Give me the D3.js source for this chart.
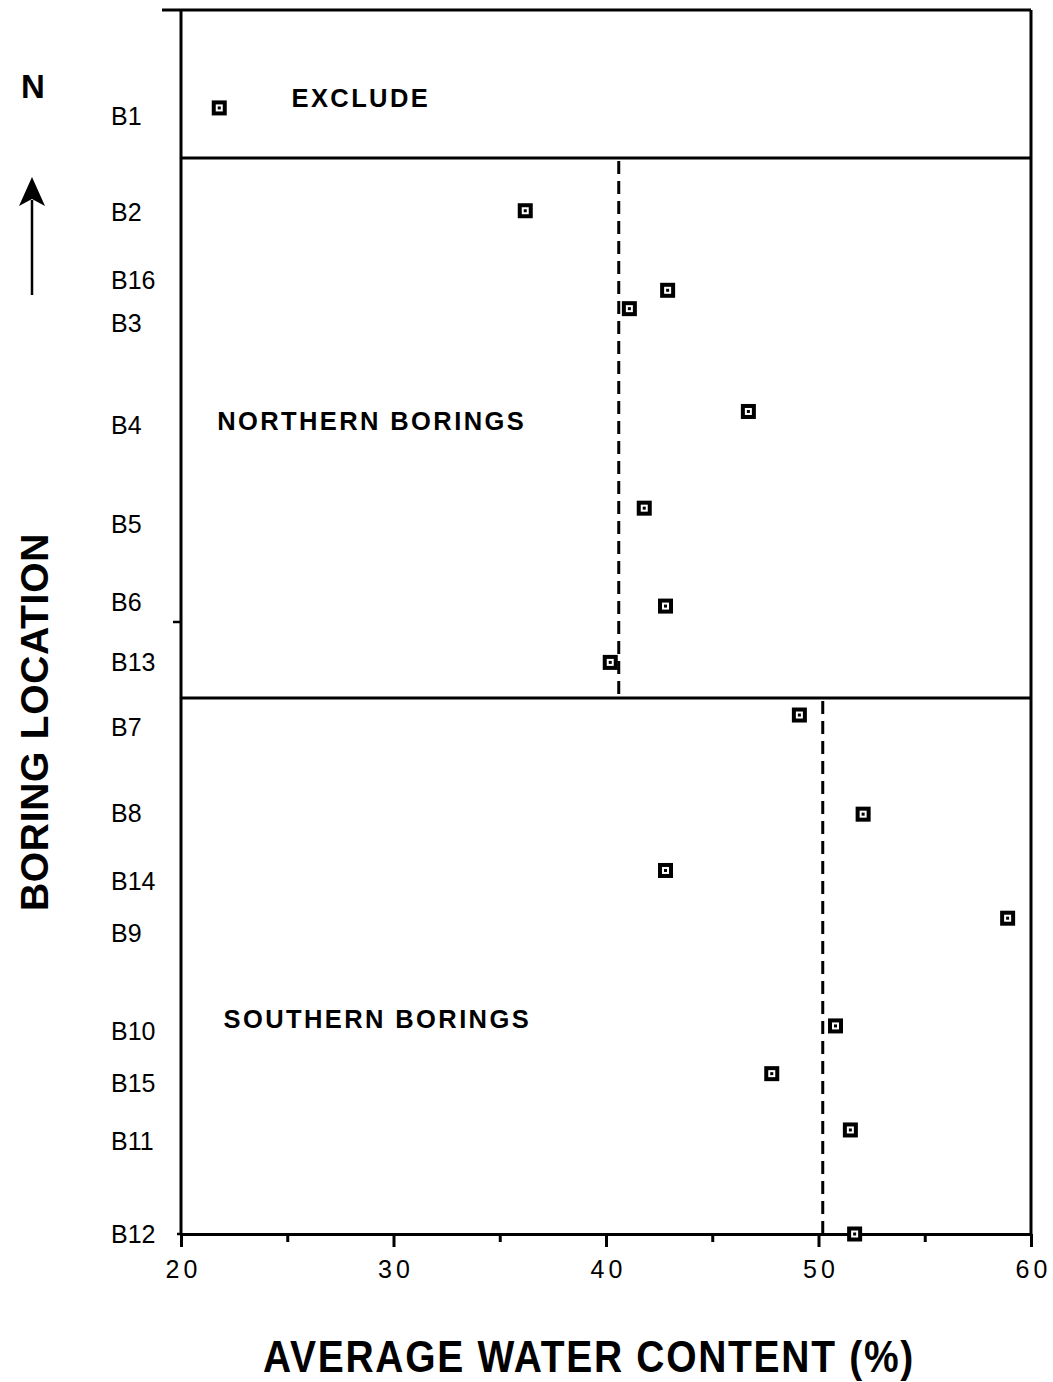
<!DOCTYPE html>
<html><head><meta charset="utf-8">
<script src="https://cdn.jsdelivr.net/npm/d3@7"></script>
<style>body{margin:0;background:#fff}</style>
</head><body><svg id="c" width="1053" height="1382"></svg>
<script>
// ---- data ----
const borings = ["B1","B2","B16","B3","B4","B5","B6","B13","B7","B8","B14","B9","B10","B15","B11","B12"];
const waterContent = [21.8,36.2,42.9,41.1,46.7,41.8,42.8,40.2,49.1,52.1,42.8,58.9,50.8,47.8,51.5,51.7];
// relative north-south location (0 = southernmost, 100 = top of frame)
const pointLocation = [92.0,83.6,77.1,75.6,67.2,59.3,51.3,46.7,42.4,34.3,29.7,25.8,17.0,13.1,8.5,0];
const labelLocation = [91.3,83.5,77.9,74.4,66.1,58.0,51.6,46.7,41.4,34.4,28.8,24.6,16.6,12.3,7.6,0];
const xTicks = [20,30,40,50,60];
const xMinorTicks = [25,35,45,55];
const yTicks = [50];
const groupBreaks = [87.9,43.8];
const groupMeanValues = [40.6,50.2];
const groupMeanFrom = [87.9,43.8];
const groupMeanTo = [43.8,0];
const groupLabelText = ["EXCLUDE","NORTHERN BORINGS","SOUTHERN BORINGS"];
const groupLabelX = [25.2,21.7,22.0];
const groupLabelY = [92.8,66.4,17.6];
const xTitle = "AVERAGE WATER CONTENT (%)";
const yTitle = "BORING LOCATION";

// ---- drawing ----
const FONT = "'Liberation Sans', Arial, Helvetica, sans-serif";
const svg = d3.select("#c").style("font-family", FONT);
const x = d3.scaleLinear().domain([20,60]).range([181,1031]);
const y = d3.scaleLinear().domain([0,100]).range([1234,10]);

const frame = svg.append("g").attr("stroke","#000").attr("stroke-width",3).attr("fill","none");
frame.append("line").attr("x1",x(20)).attr("x2",x(20)).attr("y1",y(100)).attr("y2",y(0));
frame.append("line").attr("x1",x(60)).attr("x2",x(60)).attr("y1",y(100)).attr("y2",y(0));
frame.append("line").attr("x1",x(20)-19).attr("x2",x(60)).attr("y1",y(100)).attr("y2",y(100));
frame.selectAll("line.div").data(groupBreaks).join("line").attr("class","div")
  .attr("x1",x(20)).attr("x2",x(60)).attr("y1",d=>y(d)).attr("y2",d=>y(d));
frame.selectAll("line.yt").data(yTicks).join("line").attr("class","yt")
  .attr("x1",x(20)-8).attr("x2",x(20)).attr("y1",d=>y(d)).attr("y2",d=>y(d)).attr("stroke-width",2.5);
frame.append("line").attr("x1",x(20)-4).attr("x2",x(20)).attr("y1",y(0)).attr("y2",y(0)).attr("stroke-width",2.5);

// bottom axis
const ax = svg.append("g").attr("transform",`translate(0,${y(0)})`)
  .call(d3.axisBottom(x).tickValues(xTicks).tickSize(13).tickSizeOuter(0).tickPadding(13).tickFormat(d3.format("d")));
ax.select(".domain").attr("stroke-width",3);
ax.selectAll(".tick line").attr("stroke-width",3);
ax.selectAll(".tick text").attr("font-size",25).attr("font-family",FONT)
  .attr("letter-spacing","4px").attr("dx","2px").attr("fill","#000");
const axm = svg.append("g").attr("transform",`translate(0,${y(0)})`)
  .call(d3.axisBottom(x).tickValues(xMinorTicks).tickSize(8).tickSizeOuter(0).tickFormat(""));
axm.select(".domain").remove();
axm.selectAll(".tick line").attr("stroke-width",3);

// group mean dashed lines
svg.selectAll("line.mean").data(groupMeanValues).join("line").attr("class","mean")
  .attr("x1",d=>x(d)).attr("x2",d=>x(d))
  .attr("y1",(d,i)=>y(groupMeanFrom[i])+3).attr("y2",(d,i)=>y(groupMeanTo[i]))
  .attr("stroke","#000").attr("stroke-width",3).attr("stroke-dasharray","13,7");

// boring labels (left)
svg.selectAll("text.blab").data(borings).join("text").attr("class","blab")
  .attr("x",111).attr("y",(d,i)=>y(labelLocation[i])).attr("dy","0.35em")
  .attr("font-size",25).attr("fill","#000").text(d=>d);

// markers
const pts = svg.selectAll("g.pt").data(borings).join("g").attr("class","pt")
  .attr("transform",(d,i)=>`translate(${x(waterContent[i])},${y(pointLocation[i])})`);
pts.append("rect").attr("x",-7.5).attr("y",-7.5).attr("width",15).attr("height",15).attr("fill","#000");
pts.append("rect").attr("x",-3.5).attr("y",-3.5).attr("width",7).attr("height",7).attr("fill","#fff");
pts.append("rect").attr("x",-1.5).attr("y",-1.5).attr("width",3).attr("height",3).attr("fill","#000");

// group labels
svg.selectAll("text.glab").data(groupLabelText).join("text").attr("class","glab")
  .attr("x",(d,i)=>x(groupLabelX[i])).attr("y",(d,i)=>y(groupLabelY[i])).attr("dy","0.35em")
  .attr("font-size",25.5).attr("font-weight","bold").attr("letter-spacing","2.4px").attr("fill","#000").text(d=>d);

// axis titles
svg.append("g").attr("transform","translate(589,1372) scale(1,1.15)")
  .append("text").attr("text-anchor","middle")
  .attr("font-size",39).attr("font-weight","bold").attr("letter-spacing","1.7px").text(xTitle);
svg.append("text").attr("transform","translate(48,722) rotate(-90)").attr("text-anchor","middle")
  .attr("font-size",39).attr("font-weight","bold").attr("letter-spacing","0.7px").text(yTitle);

// north arrow
svg.append("text").attr("x",33).attr("y",98).attr("text-anchor","middle")
  .attr("font-size",33).attr("font-weight","bold").text("N");
svg.append("line").attr("x1",32).attr("x2",32).attr("y1",295).attr("y2",200)
  .attr("stroke","#000").attr("stroke-width",2.5);
svg.append("path").attr("d","M32,177 L45,206 L32,199 L19,206 Z").attr("fill","#000");
</script></body></html>
